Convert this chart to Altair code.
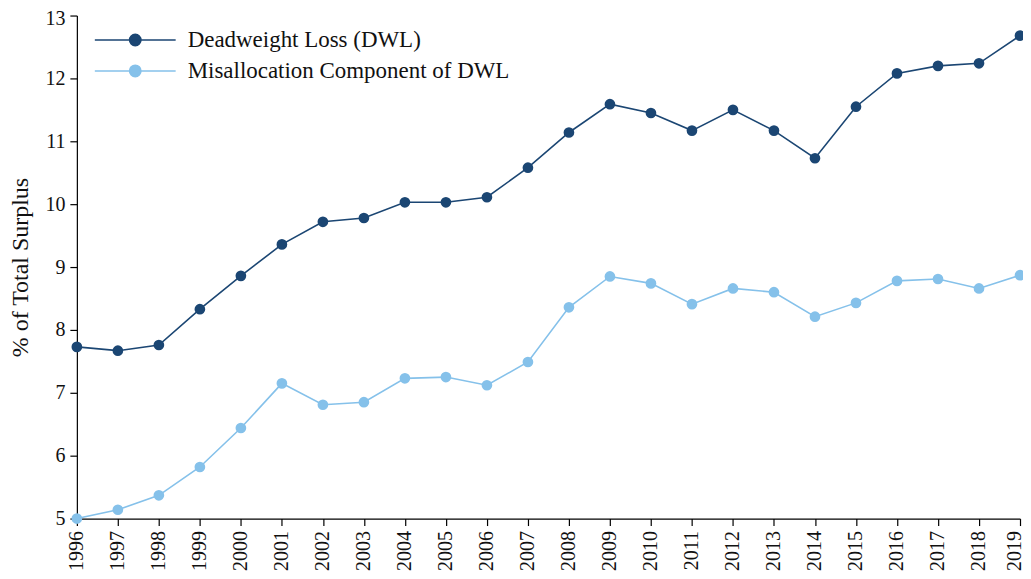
import altair as alt
import pandas as pd

years = list(range(1996, 2020))
dwl = [7.73, 7.67, 7.76, 8.33, 8.86, 9.36, 9.72, 9.78, 10.03, 10.03, 10.11, 10.58,
       11.14, 11.59, 11.45, 11.17, 11.50, 11.17, 10.73, 11.55, 12.08, 12.20, 12.24, 12.68]
misalloc = [5.00, 5.14, 5.37, 5.82, 6.44, 7.15, 6.81, 6.85, 7.23, 7.25, 7.12, 7.49,
            8.36, 8.85, 8.74, 8.41, 8.66, 8.60, 8.21, 8.43, 8.78, 8.81, 8.66, 8.87]
series_names = ["Deadweight Loss (DWL)", "Misallocation Component of DWL"]
series_colors = ["#1b4673", "#85c1ea"]
y_ticks = [5, 6, 7, 8, 9, 10, 11, 12, 13]

rows = []
for name, vals in zip(series_names, [dwl, misalloc]):
    for yr, v in zip(years, vals):
        rows.append({"Year": yr, "Value": v, "Series": name})
df = pd.DataFrame(rows)

FONT = "Liberation Serif"

legend_path = ("M-1,0L1,0M-0.14,0A0.14,0.14,0,1,0,0.14,0"
               "A0.14,0.14,0,1,0,-0.14,0Z")

color = alt.Color(
    "Series:N",
    scale=alt.Scale(domain=series_names, range=series_colors),
    legend=alt.Legend(
        title=None, orient="none", legendX=17, legendY=9,
        symbolType=legend_path, symbolSize=6561, symbolStrokeWidth=1.6,
        clipHeight=31, rowPadding=0, labelOffset=11, padding=0,
        labelFont=FONT, labelFontSize=23, labelColor="#111111", labelLimit=0,
    ),
)

x = alt.X("Year:Q", scale=alt.Scale(domain=[1996, 2019], nice=False, zero=False),
          axis=alt.Axis(values=years, format="d", labelAngle=270, title=None,
                        labelAlign="right", labelBaseline="middle",
                        grid=False, tickSize=7, labelPadding=5, domainColor="#000",
                        tickColor="#000", labelFont=FONT, labelFontSize=20,
                        labelColor="#111111", labelOverlap=False, labelFlush=False,
                        labelOffset=alt.expr("datum.value == 2019 ? -6 : 0")))
y = alt.Y("Value:Q", scale=alt.Scale(domain=[5, 13], nice=False, zero=False),
          axis=alt.Axis(values=y_ticks, format="d", title="% of Total Surplus",
                        grid=False, tickSize=7, labelPadding=5, domainColor="#000",
                        tickColor="#000", labelFont=FONT, labelFontSize=20,
                        labelColor="#111111", titleFont=FONT, titleFontSize=24,
                        titleFontWeight="normal", titleColor="#111111",
                        titlePadding=12, labelFlush=False,
                        labelOffset=alt.expr("datum.value == 13 ? 3 : 0")))

base = alt.Chart(df)
lines = base.mark_line(strokeWidth=1.6).encode(x=x, y=y, color=color)
points = base.mark_point(filled=True, size=115, opacity=1).encode(x=x, y=y, color=color)

chart = alt.layer(lines, points).properties(
    width=945, height=504,
    autosize=alt.AutoSizeParams(type="none"),
    padding={"left": 69, "top": 7, "right": 3, "bottom": 52},
).configure_view(stroke=None).configure_axis(domainWidth=1.2, tickWidth=1.2)

chart.save("out.html", embed_options={"renderer": "svg", "actions": False})
